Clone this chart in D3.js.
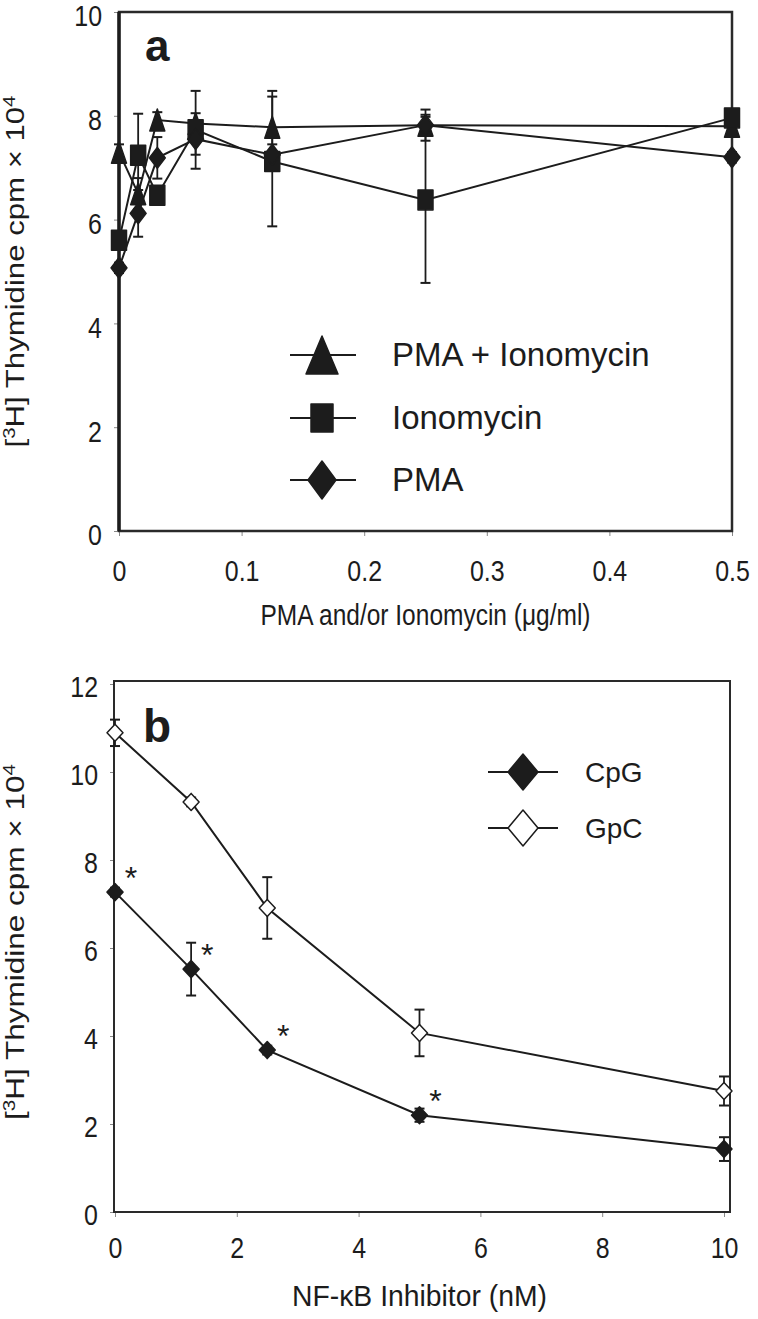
<!DOCTYPE html>
<html><head><meta charset="utf-8">
<script src="https://cdn.jsdelivr.net/npm/d3@7"></script>
<style>
body{margin:0;background:#fff}
svg{display:block}
text{font-family:"Liberation Sans",Arial,sans-serif;fill:#1c1c1c}
</style>
</head><body><svg id="c" width="758" height="1319"></svg>
<script>
// ---------- Panel a data ----------
const doseA = [0, 0.015625, 0.03125, 0.0625, 0.125, 0.25, 0.5];
const pmaIono    = [7.3, 6.5, 7.92, 7.85, 7.78, 7.82, 7.8];
const pmaIonoErr = [0.15, 0.3, 0.15, 0.2, 0.7, 0.3, 0.2];
const iono       = [5.6, 7.24, 6.47, 7.73, 7.12, 6.38, 7.96];
const ionoErr    = [0.15, 0.8, 0.15, 0.75, 1.25, 1.6, 0.15];
const pma        = [5.07, 6.12, 7.19, 7.55, 7.25, 7.82, 7.2];
const pmaErr     = [0.1, 0.45, 0.4, 0.3, 0.2, 0.2, 0.1];
const seriesNamesA = ["PMA + Ionomycin", "Ionomycin", "PMA"];
const xTicksA = [0, 0.1, 0.2, 0.3, 0.4, 0.5];
const yTicksA = [0, 2, 4, 6, 8, 10];

// ---------- Panel b data ----------
const doseB = [0, 1.25, 2.5, 5, 10];
const cpg    = [7.27, 5.52, 3.68, 2.2, 1.43];
const cpgErr = [0.1, 0.6, 0.1, 0.15, 0.27];
const gpc    = [10.89, 9.32, 6.91, 4.07, 2.75];
const gpcErr = [0.3, 0.1, 0.7, 0.53, 0.33];
const cpgSig = ["*", "*", "*", "*", ""];
const seriesNamesB = ["CpG", "GpC"];
const xTicksB = [0, 2, 4, 6, 8, 10];
const yTicksB = [0, 2, 4, 6, 8, 10, 12];

const svg = d3.select("#c");
const INK = "#1c1c1c";

function condense(sel, k) {
  sel.each(function () {
    const w = this.getComputedTextLength();
    d3.select(this).attr("textLength", w * k).attr("lengthAdjust", "spacingAndGlyphs");
  });
}

function yLabel(g, x, yc, len) {
  const outer = g.append("g").attr("transform", `translate(${x},${yc}) rotate(-90)`);
  const t = outer.append("text")
    .attr("text-anchor", "middle")
    .attr("font-size", 26);
  t.append("tspan").text("[");
  t.append("tspan").text("3").attr("font-size", 17).attr("baseline-shift", "super");
  t.append("tspan").text("H] Thymidine cpm \u00d7 10");
  t.append("tspan").text("4").attr("font-size", 17).attr("baseline-shift", "super");
  const w = t.node().getBBox().width;
  t.attr("transform", `scale(${len / w},1)`);
}

function symbol(g, type, cx, cy, w, h, fill) {
  let d;
  if (type === "tri") d = `M${cx},${cy - h / 2}L${cx + w / 2},${cy + h / 2}L${cx - w / 2},${cy + h / 2}Z`;
  else if (type === "sq") d = `M${cx - w / 2},${cy - h / 2}h${w}v${h}h${-w}Z`;
  else d = `M${cx},${cy - h / 2}L${cx + w / 2},${cy}L${cx},${cy + h / 2}L${cx - w / 2},${cy}Z`;
  g.append("path").attr("d", d).attr("fill", fill).attr("stroke", INK).attr("stroke-width", 1.5).attr("stroke-linejoin", "round");
}

function errorBars(g, xs, vals, errs, x, y, cap) {
  xs.forEach((d, i) => {
    const px = x(d), y1 = y(vals[i] - errs[i]), y2 = y(vals[i] + errs[i]);
    g.append("line").attr("x1", px).attr("x2", px).attr("y1", y1).attr("y2", y2).attr("stroke", INK).attr("stroke-width", 1.8);
    [y1, y2].forEach(yy => g.append("line").attr("x1", px - cap).attr("x2", px + cap).attr("y1", yy).attr("y2", yy).attr("stroke", INK).attr("stroke-width", 2));
  });
}

function seriesLine(g, xs, vals, x, y) {
  g.append("path")
    .datum(xs.map((d, i) => [d, vals[i]]))
    .attr("d", d3.line().x(d => x(d[0])).y(d => y(d[1])))
    .attr("fill", "none").attr("stroke", INK).attr("stroke-width", 2);
}

function styleAxes(xa, ya, xLabelCenter, yShift) {
  [xa, ya].forEach(a => {
    a.select(".domain").remove();
    a.selectAll(".tick line").attr("stroke", "#888").attr("stroke-width", 1);
    a.selectAll(".tick text").attr("font-size", 29).attr("fill", INK)
      .attr("font-family", "Liberation Sans, Arial, sans-serif");
  });
  xa.selectAll(".tick text").attr("y", xLabelCenter).attr("dy", "0.36em");
  ya.selectAll(".tick text").attr("dy", `calc(0.34em + ${yShift}px)`).attr("dy", null)
    .attr("transform", `translate(0,${yShift})`).attr("dy", "0.34em");
  condense(xa.selectAll(".tick text"), 0.86);
  condense(ya.selectAll(".tick text"), 0.86);
}

// ================= Panel a =================
(function () {
  const x = d3.scaleLinear().domain([0, 0.5]).range([119, 732]);
  const y = d3.scaleLinear().domain([0, 10]).range([531, 12]);
  const g = svg.append("g");

  const xa = g.append("g").attr("transform", `translate(0,${y(0)})`)
    .call(d3.axisBottom(x).tickValues(xTicksA).tickSize(5).tickFormat(d3.format("")));
  const ya = g.append("g").attr("transform", `translate(${x(0)},0)`)
    .call(d3.axisLeft(y).tickValues(yTicksA).tickSize(5).tickPadding(12).tickFormat(d3.format("")));
  styleAxes(xa, ya, 40, 4);

  g.append("rect").attr("x", x(0)).attr("y", y(10)).attr("width", x(0.5) - x(0)).attr("height", y(0) - y(10))
    .attr("fill", "none").attr("stroke", "#2a2a2a").attr("stroke-width", 2.5);
  g.append("line").attr("x1", x(0)).attr("x2", x(0)).attr("y1", y(10)).attr("y2", y(0)).attr("stroke", INK).attr("stroke-width", 3.5);

  g.append("text").attr("x", 145).attr("y", 61).attr("font-size", 44).attr("font-weight", "bold").text("a");

  yLabel(g, 24, (y(0) + y(10)) / 2, 352);
  const xt = g.append("text").attr("x", (x(0) + x(0.5)) / 2).attr("y", 625).attr("text-anchor", "middle")
    .attr("font-size", 30).text("PMA and/or Ionomycin (\u03bcg/ml)");
  xt.attr("textLength", 330).attr("lengthAdjust", "spacingAndGlyphs");

  const sets = [
    {v: pmaIono, e: pmaIonoErr, t: "tri", w: 15, h: 22},
    {v: iono, e: ionoErr, t: "sq", w: 15, h: 20},
    {v: pma, e: pmaErr, t: "dia", w: 16, h: 21}
  ];
  sets.forEach(s => errorBars(g, doseA, s.v, s.e, x, y, 5));
  sets.forEach(s => seriesLine(g, doseA, s.v, x, y));
  sets.forEach(s => doseA.forEach((d, i) => symbol(g, s.t, x(d), y(s.v[i]), s.w, s.h, INK)));

  const legRows = [355, 418, 480];
  const legSym = [{t: "tri", w: 32, h: 38}, {t: "sq", w: 22, h: 28}, {t: "dia", w: 28, h: 38}];
  seriesNamesA.forEach((n, i) => {
    const ly = legRows[i];
    g.append("line").attr("x1", 290).attr("x2", 356).attr("y1", ly).attr("y2", ly).attr("stroke", INK).attr("stroke-width", 2);
    symbol(g, legSym[i].t, 322, ly, legSym[i].w, legSym[i].h, INK);
    g.append("text").attr("x", 392).attr("y", ly + 11).attr("font-size", 33).text(n);
  });
})();

// ================= Panel b =================
(function () {
  const x = d3.scaleLinear().domain([0, 10]).range([115, 724]);
  const y = d3.scaleLinear().domain([0, 12]).range([1212, 684]);
  const g = svg.append("g");

  const xa = g.append("g").attr("transform", `translate(0,${y(0)})`)
    .call(d3.axisBottom(x).tickValues(xTicksB).tickSize(5).tickFormat(d3.format("")));
  const ya = g.append("g").attr("transform", `translate(${x(0)},0)`)
    .call(d3.axisLeft(y).tickValues(yTicksB).tickSize(5).tickPadding(12).tickFormat(d3.format("")));
  styleAxes(xa, ya, 36, 3);

  g.append("rect").attr("x", 114).attr("y", 681).attr("width", 730 - 114).attr("height", y(0) - 681)
    .attr("fill", "none").attr("stroke", "#2a2a2a").attr("stroke-width", 2);

  g.append("text").attr("x", 143).attr("y", 742).attr("font-size", 46).attr("font-weight", "bold").text("b");

  yLabel(g, 24, (y(0) + y(12)) / 2 - 6, 356);
  g.append("text").attr("x", (x(0) + x(10)) / 2).attr("y", 1306).attr("text-anchor", "middle")
    .attr("font-size", 30).text("NF-\u03baB Inhibitor (nM)")
    .attr("textLength", 255).attr("lengthAdjust", "spacingAndGlyphs");

  errorBars(g, doseB, gpc, gpcErr, x, y, 5);
  errorBars(g, doseB, cpg, cpgErr, x, y, 5);
  seriesLine(g, doseB, gpc, x, y);
  seriesLine(g, doseB, cpg, x, y);
  doseB.forEach((d, i) => symbol(g, "dia", x(d), y(gpc[i]), 16, 17, "#fff"));
  doseB.forEach((d, i) => symbol(g, "dia", x(d), y(cpg[i]), 16, 17, INK));
  doseB.forEach((d, i) => {
    if (!cpgSig[i]) return;
    g.append("text").attr("x", x(d) + 16).attr("y", y(cpg[i]) - 22 + 19).attr("text-anchor", "middle")
      .attr("font-size", 32).text(cpgSig[i]);
  });

  const legRows = [772, 828];
  seriesNamesB.forEach((n, i) => {
    const ly = legRows[i];
    g.append("line").attr("x1", 488).attr("x2", 558).attr("y1", ly).attr("y2", ly).attr("stroke", INK).attr("stroke-width", 2);
    symbol(g, "dia", 523, ly, 30, 36, i === 0 ? INK : "#fff");
    g.append("text").attr("x", 585).attr("y", ly + 10).attr("font-size", 28).text(n);
  });
})();
</script>
</body></html>
